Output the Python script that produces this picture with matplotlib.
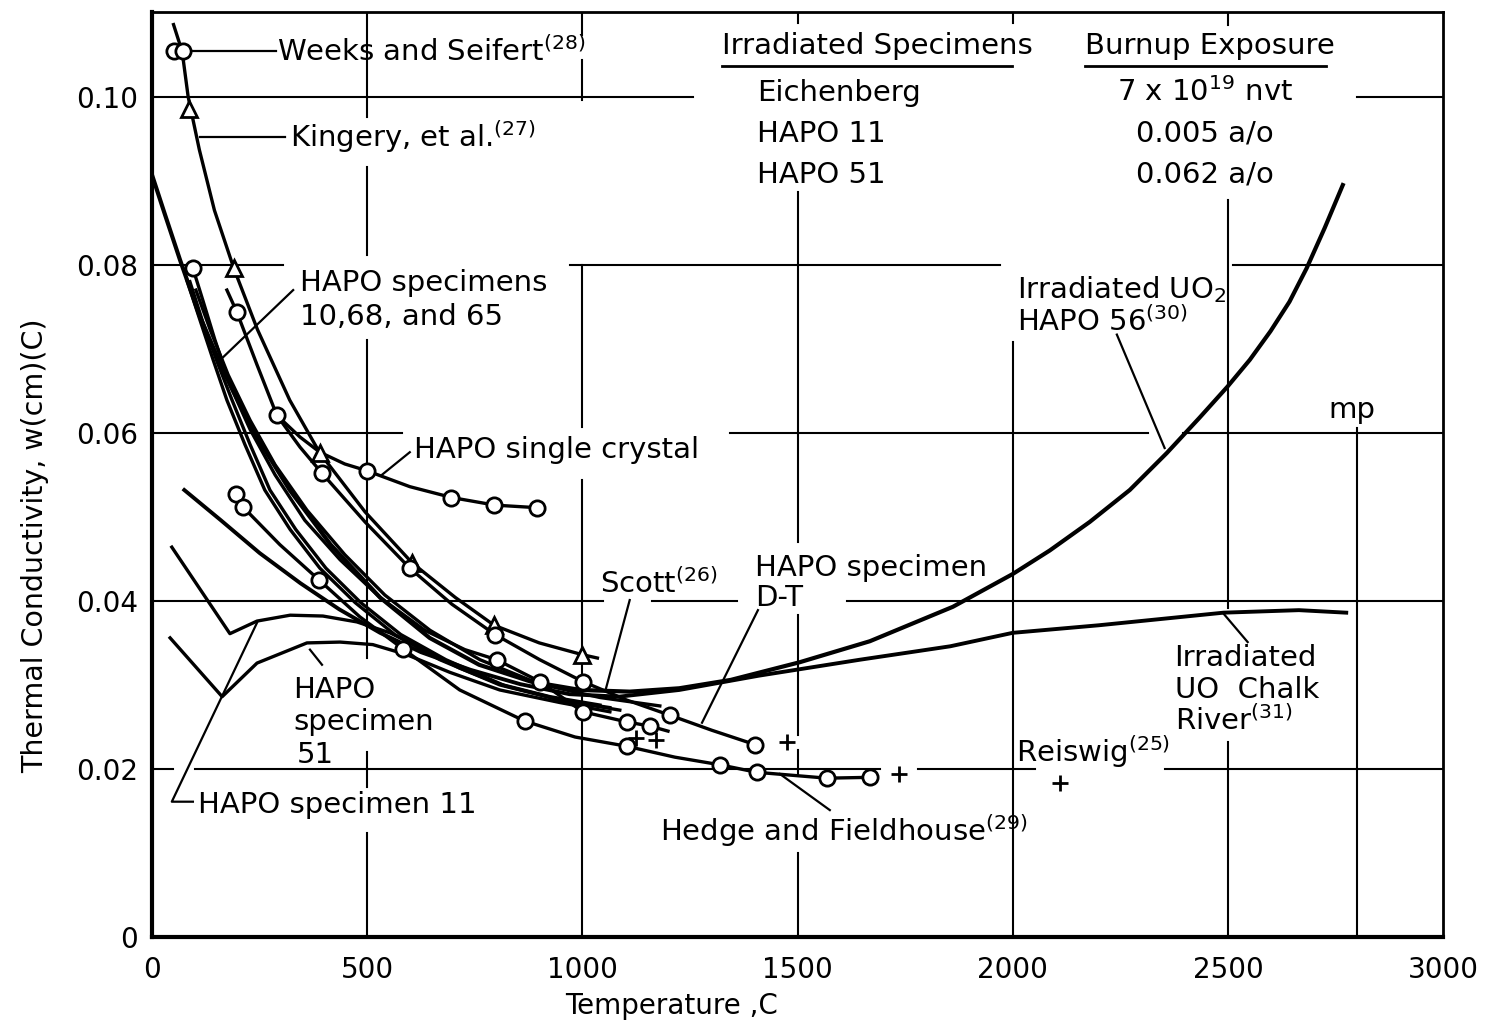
import matplotlib.pyplot as plt

# temperature in C, conductivity in w/(cm)(C)

# Kingery, et al. and Weeks and Seifert (steep upper curve)
kingery_t = [50, 70, 84, 110, 145, 190, 245, 320, 390, 495, 605, 705, 795, 900, 1000, 1035]
kingery_k = [0.1086, 0.1054, 0.1000, 0.0937, 0.0865, 0.0796, 0.0723, 0.0639, 0.0576, 0.0506,
             0.0445, 0.0404, 0.0371, 0.0350, 0.0336, 0.0332]
kingery_pts_t = [85, 190, 390, 605, 795, 1000]
kingery_pts_k = [0.0985, 0.0796, 0.0576, 0.0445, 0.0371, 0.0336]
weeks_pts_t = [50, 72]
weeks_pts_k = [0.1054, 0.1054]

# HAPO single crystal
crystal_t = [290, 344, 390, 448, 499, 599, 697, 797, 894]
crystal_k = [0.0621, 0.0595, 0.0577, 0.0563, 0.0555, 0.0536, 0.0523, 0.0514, 0.0511]
crystal_pts_t = [500, 695, 795, 895]
crystal_pts_k = [0.0555, 0.0523, 0.0514, 0.0511]

# HAPO specimen D-T
dt_t = [174, 197, 244, 290, 344, 395, 495, 599, 697, 797, 901, 1001, 1103, 1203, 1301, 1401]
dt_k = [0.0770, 0.0744, 0.0681, 0.0621, 0.0583, 0.0552, 0.0494, 0.0439, 0.0396, 0.0360,
        0.0330, 0.0304, 0.0282, 0.0264, 0.0246, 0.0229]
dt_pts_t = [197, 290, 395, 599, 797, 1001, 1203, 1401]
dt_pts_k = [0.0744, 0.0621, 0.0552, 0.0439, 0.0360, 0.0304, 0.0264, 0.0229]

# HAPO specimens 10, 68 and 65
h10_t = [81, 111, 142, 174, 216, 262, 321, 390, 472, 564, 669, 808, 948, 1064]
h10_k = [0.0782, 0.0735, 0.0687, 0.0639, 0.0586, 0.0532, 0.0485, 0.0439, 0.0398, 0.0360,
         0.0330, 0.0300, 0.0282, 0.0273]
h68_t = [88, 118, 151, 186, 228, 274, 334, 404, 485, 578, 683, 820, 959, 1087]
h68_k = [0.0780, 0.0732, 0.0685, 0.0639, 0.0586, 0.0532, 0.0485, 0.0439, 0.0398, 0.0360,
         0.0330, 0.0299, 0.0281, 0.0270]
h65_t = [102, 135, 177, 228, 286, 360, 448, 541, 646, 762, 901, 1041, 1180]
h65_k = [0.0770, 0.0723, 0.0669, 0.0615, 0.0562, 0.0508, 0.0455, 0.0407, 0.0365, 0.0330,
         0.0301, 0.0285, 0.0275]

# circle series starting at 0.08
e_t = [95, 118, 146, 181, 228, 286, 355, 437, 530, 634, 727, 801, 901, 1001, 1103, 1157, 1199]
e_k = [0.0796, 0.0758, 0.0711, 0.0657, 0.0604, 0.0550, 0.0496, 0.0449, 0.0404, 0.0365,
       0.0342, 0.0330, 0.0304, 0.0268, 0.0256, 0.0251, 0.0245]
e_pts_t = [95, 801, 901, 1001, 1103, 1157]
e_pts_k = [0.0796, 0.0330, 0.0304, 0.0268, 0.0256, 0.0251]

# Hedge and Fieldhouse
hf_t = [211, 297, 388, 483, 583, 715, 866, 983, 1103, 1215, 1319, 1405, 1568, 1668]
hf_k = [0.0512, 0.0467, 0.0425, 0.0381, 0.0343, 0.0294, 0.0257, 0.0238, 0.0227, 0.0214,
        0.0205, 0.0196, 0.0189, 0.0190]
hf_pts_t = [195, 211, 388, 583, 866, 1103, 1319, 1405, 1568, 1668]
hf_pts_k = [0.0527, 0.0512, 0.0425, 0.0343, 0.0257, 0.0227, 0.0205, 0.0196, 0.0189, 0.0190]

# irradiated HAPO specimens 11 and 51
h11_t = [46, 181, 244, 321, 397, 476, 553, 623, 715, 808, 925, 1041]
h11_k = [0.0464, 0.0361, 0.0376, 0.0383, 0.0382, 0.0375, 0.0362, 0.0344, 0.0320, 0.0301,
         0.0286, 0.0276]
h51_t = [42, 163, 244, 360, 437, 513, 592, 692, 808, 948, 1064]
h51_k = [0.0356, 0.0286, 0.0326, 0.0350, 0.0351, 0.0348, 0.0336, 0.0315, 0.0294, 0.0279,
         0.0268]

# irradiated UO2 HAPO 56
h56_t = [0, 30, 65, 110, 170, 240, 320, 415, 530, 645, 760, 880, 995, 1110, 1225, 1345,
         1505, 1668, 1861, 2000, 2086, 2179, 2272, 2358, 2434, 2499, 2551, 2599, 2643,
         2683, 2725, 2767]
h56_k = [0.0907, 0.0860, 0.0806, 0.0740, 0.0669, 0.0598, 0.0532, 0.0467, 0.0404, 0.0356,
         0.0324, 0.0304, 0.0294, 0.0292, 0.0296, 0.0306, 0.0327, 0.0352, 0.0393, 0.0432,
         0.0460, 0.0494, 0.0532, 0.0576, 0.0618, 0.0655, 0.0687, 0.0721, 0.0756, 0.0796,
         0.0844, 0.0895]

# irradiated UO Chalk River
chalk_t = [75, 160, 250, 345, 435, 530, 625, 740, 855, 970, 1085, 1225, 1410, 1645, 1855,
           2000, 2200, 2490, 2665, 2775]
chalk_k = [0.0532, 0.0496, 0.0457, 0.0421, 0.0390, 0.0362, 0.0339, 0.0318, 0.0301, 0.0289,
           0.0286, 0.0294, 0.0311, 0.0330, 0.0346, 0.0362, 0.0371, 0.0386, 0.0389, 0.0386]

# single points (+), Reiswig and others
plus_t = [1125, 1170, 1475, 1735, 2110]
plus_k = [0.0237, 0.0235, 0.0232, 0.0194, 0.0183]

x_ticks = [0, 500, 1000, 1500, 2000, 2500, 3000]
y_ticks = [0, 0.02, 0.04, 0.06, 0.08, 0.10]
y_tick_labels = ['0', '0.02', '0.04', '0.06', '0.08', '0.10']

plt.rcParams['font.family'] = 'DejaVu Sans'
plt.rcParams['mathtext.default'] = 'regular'

fig = plt.figure(figsize=(14.86, 10.25), dpi=100)
ax = fig.add_axes([0.1023, 0.0859, 0.8688, 0.9024])
ax.set_xlim(0, 3000)
ax.set_ylim(0, 0.1101)

FS = 21
INK = 'black'


def curve(t, k, lw=2.4):
    ax.plot(t, k, color=INK, lw=lw, solid_joinstyle='round', zorder=3)


def circles(t, k):
    ax.plot(t, k, 'o', ms=11, mfc='white', mec=INK, mew=2, zorder=4)


def triangles(t, k):
    ax.plot(t, k, '^', ms=11, mfc='white', mec=INK, mew=2, zorder=4)


def leader(ts, ks):
    ax.plot(ts, ks, color=INK, lw=1.6, zorder=3)


# broken grid lines
hgrid = {
    0.10: [(0, 1257), (2801, 3000)],
    0.08: [(0, 304), (971, 1970), (2511, 3000)],
    0.06: [(0, 581), (1343, 2314), (2395, 3000)],
    0.04: [(0, 1048), (1161, 1359), (1614, 3000)],
    0.02: [(0, 49), (100, 1691), (1779, 2051), (2353, 3000)],
}
vgrid = {
    500: [(0.1101, 0.0976), (0.0917, 0.0812), (0.0711, 0.0332), (0.0220, 0.0179), (0.0124, 0)],
    1000: [(0.1101, 0.1074), (0.1044, 0.0996), (0.0800, 0.0607), (0.0544, 0)],
    1500: [(0.1101, 0.1088), (0.0887, 0.0470), (0.0383, 0.0240), (0.0223, 0.0193), (0.0100, 0)],
    2000: [(0.1101, 0.1088), (0.0708, 0)],
    2500: [(0.1101, 0.1086), (0.0877, 0.0392), (0.0232, 0)],
    2800: [(0.0606, 0)],
}
for y, segs in hgrid.items():
    for a, b in segs:
        ax.plot([a, b], [y, y], color=INK, lw=1.5, zorder=2)
for x, segs in vgrid.items():
    for a, b in segs:
        ax.plot([x, x], [a, b], color=INK, lw=1.5, zorder=2)

# curves
curve(kingery_t, kingery_k)
curve(crystal_t, crystal_k)
curve(dt_t, dt_k)
curve(h10_t, h10_k)
curve(h68_t, h68_k)
curve(h65_t, h65_k)
curve(e_t, e_k)
curve(hf_t, hf_k)
curve(h11_t, h11_k)
curve(h51_t, h51_k)
curve(h56_t, h56_k, lw=3.0)
curve(chalk_t, chalk_k, lw=2.8)

triangles(kingery_pts_t, kingery_pts_k)
circles(weeks_pts_t, weeks_pts_k)
circles(crystal_pts_t, crystal_pts_k)
circles(dt_pts_t, dt_pts_k)
circles(e_pts_t, e_pts_k)
circles(hf_pts_t, hf_pts_k)
ax.plot(plus_t, plus_k, '+', ms=12, mew=2, color=INK, zorder=4)

# label leaders
leader([93, 288], [0.1054, 0.1054])
leader([111, 309], [0.0952, 0.0952])
leader([163, 328], [0.0689, 0.0770])
leader([534, 599], [0.0550, 0.0577])
leader([1110, 1055], [0.0401, 0.0296])
leader([1408, 1278], [0.0389, 0.0255])
leader([2242, 2353], [0.0717, 0.0582])
leader([2488, 2546], [0.0386, 0.0351])
leader([1459, 1575], [0.0194, 0.0151])
leader([367, 395], [0.0342, 0.0324])
leader([95, 46, 244], [0.0161, 0.0161, 0.0374])


def label(x, y, s, ha='left'):
    ax.text(x, y, s, fontsize=FS, ha=ha, va='center', color=INK, zorder=5)


label(290, 0.1054, 'Weeks and Seifert$^{(28)}$')
label(321, 0.0952, 'Kingery, et al.$^{(27)}$')
label(344, 0.0779, 'HAPO specimens')
label(344, 0.0738, '10,68, and 65')
label(609, 0.0580, 'HAPO single crystal')
label(1324, 0.1060, 'Irradiated Specimens')
label(1405, 0.1004, 'Eichenberg')
label(1405, 0.0956, 'HAPO 11')
label(1405, 0.0907, 'HAPO 51')
label(2167, 0.1060, 'Burnup Exposure')
label(2446, 0.1006, '7 x 10$^{19}$ nvt', ha='center')
label(2446, 0.0956, '0.005 a/o', ha='center')
label(2446, 0.0907, '0.062 a/o', ha='center')
ax.plot([1324, 1998], [0.1037, 0.1037], color=INK, lw=2)
ax.plot([2167, 2729], [0.1037, 0.1037], color=INK, lw=2)
label(2009, 0.0770, 'Irradiated UO$_2$')
label(2009, 0.0732, 'HAPO 56$^{(30)}$')
label(2787, 0.0627, 'mp', ha='center')
label(1401, 0.0439, 'HAPO specimen')
label(1401, 0.0404, 'D-T')
label(1041, 0.0421, 'Scott$^{(26)}$')
label(2376, 0.0332, 'Irradiated')
label(2376, 0.0294, 'UO  Chalk')
label(2376, 0.0258, 'River$^{(31)}$')
label(2007, 0.0220, 'Reiswig$^{(25)}$')
label(328, 0.0294, 'HAPO')
label(328, 0.0256, 'specimen')
label(337, 0.0217, '51')
label(107, 0.0157, 'HAPO specimen 11')
label(1180, 0.0127, 'Hedge and Fieldhouse$^{(29)}$')

# axes frame and ticks
for side in ['left', 'bottom']:
    ax.spines[side].set_linewidth(3)
for side in ['top', 'right']:
    ax.spines[side].set_linewidth(2)
ax.set_xticks(x_ticks)
ax.set_yticks(y_ticks)
ax.set_yticklabels(y_tick_labels)
ax.tick_params(length=0, labelsize=20)
ax.tick_params(axis='x', pad=14)
ax.tick_params(axis='y', pad=10)

fig.text(0.452, 0.019, 'Temperature ,C', fontsize=20, ha='center', va='center')
fig.text(0.0236, 0.468, 'Thermal Conductivity, w(cm)(C)', fontsize=20.5, ha='center',
         va='center', rotation=90)

fig.savefig('out.png', dpi=100)
